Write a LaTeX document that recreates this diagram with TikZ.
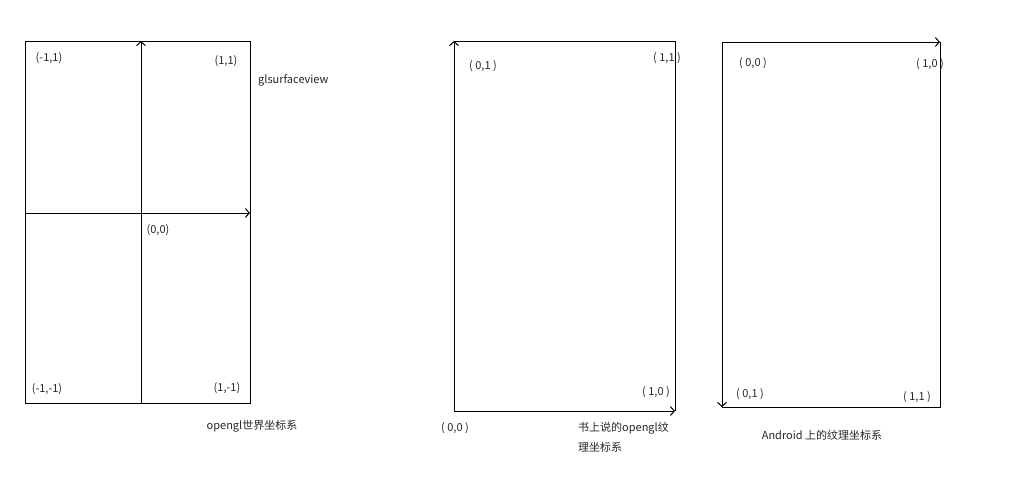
\documentclass[tikz,border=0pt]{standalone}
\usepackage{fontspec}
\setmainfont{Noto Sans CJK SC}
\usetikzlibrary{arrows.meta}
\begin{document}
\begin{tikzpicture}[x=1pt,y=-1pt,
  lbl/.style={font=\fontsize{11}{13}\selectfont, text=black!85, inner sep=0pt},
  cap2/.style={font=\fontsize{11}{20}\selectfont, text=black!85, inner sep=0pt},
  frame/.style={draw=black, line width=1pt},
  axis/.style={draw=black, line width=1pt, -{Straight Barb[length=4pt,width=9pt]}}]
\useasboundingbox (0,0) rectangle (1036,480);
% box 1
\coordinate (a1) at (25,41); \coordinate (a2) at (250,403);
\draw[frame] (a1) rectangle (a2);
\coordinate (vb) at (141,403); \coordinate (vt) at (141,41);
\coordinate (hl) at (25,213); \coordinate (hr) at (250,213);
\draw[axis] (vb) -- (vt);
\draw[axis] (hl) -- (hr);
\node[lbl] (l1) at (49,58) {(-1,1)};
\node[lbl] (l2) at (226,61) {(1,1)};
\node[lbl,anchor=west] (l3) at (258,80) {glsurfaceview};
\node[lbl] (l4) at (158,230) {(0,0)};
\node[lbl] (l5) at (47,389) {(-1,-1)};
\node[lbl] (l6) at (227,388) {(1,-1)};
\node[cap2] (c1) at (252,426) {opengl世界坐标系};
% box 2
\coordinate (b1) at (454,41); \coordinate (b2) at (675,411);
\coordinate (bbl) at (454,411); \coordinate (btr) at (675,41);
\draw[line width=1pt] (b2) -- (btr) -- (b1);
\draw[axis] (bbl) -- (b1);
\draw[axis] (bbl) -- (b2);
\node[lbl] (m1) at (483,66) {( 0,1 )};
\node[lbl] (m2) at (667,58) {( 1,1 )};
\node[lbl] (m3) at (656,392) {( 1,0 )};
\node[lbl] (m4) at (455,428) {( 0,0 )};
\node[cap2,anchor=north west,align=left] (c2) at (578,422) {书上说的opengl纹\\理坐标系};
% box 3
\coordinate (d1) at (722,42); \coordinate (d2) at (940,407);
\coordinate (dtr) at (940,42); \coordinate (dbl) at (722,407);
\draw[line width=1pt] (dtr) -- (d2) -- (dbl);
\draw[axis] (d1) -- (dtr);
\draw[axis] (d1) -- (dbl);
\node[lbl] (n1) at (753,63) {( 0,0 )};
\node[lbl] (n2) at (930,64) {( 1,0 )};
\node[lbl] (n3) at (750,394) {( 0,1 )};
\node[lbl] (n4) at (917,397) {( 1,1 )};
\node[cap2] (c3) at (822,435) {Android 上的纹理坐标系};
\end{tikzpicture}
\end{document}
